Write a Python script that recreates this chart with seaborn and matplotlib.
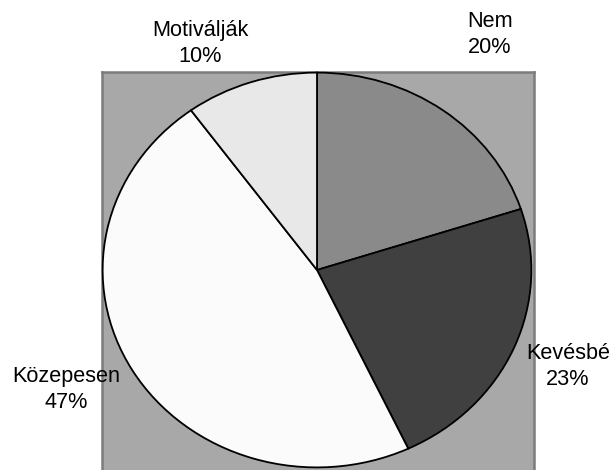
import matplotlib
matplotlib.use("Agg")
import matplotlib.pyplot as plt
import seaborn as sns

categories = ["Nem", "Kevésbé", "Közepesen", "Motiválják"]
values = [20, 23, 47, 10]
slice_colors = ["#8a8a8a", "#404040", "#fbfbfb", "#e8e8e8"]

sns.set_theme(style="white")
plt.rcParams["font.family"] = ["Liberation Sans", "DejaVu Sans"]

W, H = 615, 470
fig = plt.figure(figsize=(W / 100, H / 100), dpi=100)
fig.patch.set_facecolor("white")

# grey plot-area rectangle
bg = fig.add_axes([102 / W, -0.01, 432 / W, (H - 72) / H + 0.01])
bg.set_facecolor("#a8a8a8")
bg.set_xticks([]); bg.set_yticks([])
for side, sp in bg.spines.items():
    sp.set_color("#7c7c7c")
    sp.set_linewidth(1.8)
bg.spines["bottom"].set_visible(False)

# pie (elliptical, stretched to its box)
ax = fig.add_axes([102 / W, 2 / H, 430 / W, 396 / H])
ax.set_facecolor("none")
palette = sns.color_palette(slice_colors)
ax.pie(values, colors=palette, startangle=90, counterclock=False,
       radius=1.0, wedgeprops=dict(edgecolor="black", linewidth=1.3))
ax.set_aspect("auto")
ax.set_xlim(-1.003, 1.003)
ax.set_ylim(-1.003, 1.003)
ax.axis("off")

# labels: (x centre px, last-line baseline px)
label_pos = {"Nem": (490, 53), "Kevésbé": (568, 385),
             "Közepesen": (66, 408), "Motiválják": (200, 62)}
for name, val in zip(categories, values):
    x, y = label_pos[name]
    fig.text(x / W, 1 - y / H, f"{name}\n{val}%", ha="center", va="baseline",
             fontsize=15.6, color="black", linespacing=1.33,
             multialignment="center")

fig.savefig("out.png", dpi=100, facecolor="white")
